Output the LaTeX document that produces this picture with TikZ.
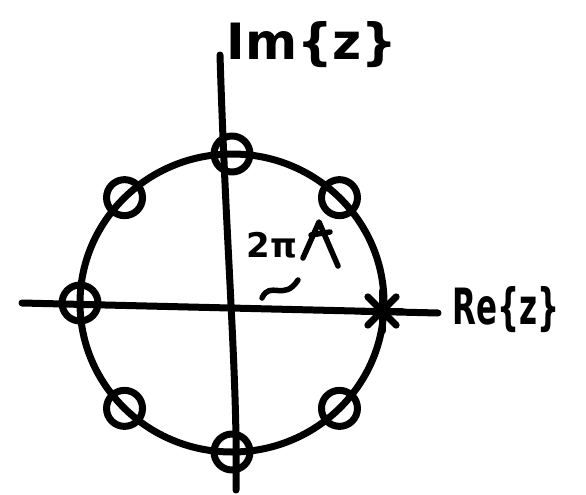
\documentclass[tikz,border=0pt]{standalone}
\usepackage{fontspec}
\setmainfont{DejaVu Sans}
\usetikzlibrary{calc}
\begin{document}
\begin{tikzpicture}[x=1pt,y=-1pt,
  ink/.style={line width=7pt,line cap=round,line join=round},
  zero/.style={ink,draw,circle,minimum size=36pt,inner sep=0pt},
  lbl/.style={font=\fontsize{50}{50}\selectfont\bfseries,inner sep=0pt}]
\useasboundingbox (0,0) rectangle (586,495);
\coordinate (O) at (232,303);
% axes
\coordinate (xl) at (22,303);
\coordinate (xr) at (438,313);
\coordinate (yt) at (220,55);
\coordinate (yb) at (236,490);
\draw[ink] (xl) -- (xr);
\draw[ink] (yt) .. controls (226,250) and (238,380) .. (yb);
% unit circle
\draw[ink] (O) ellipse [x radius=152pt, y radius=149pt];
% zeros
\foreach \a/\n in {45/z1,90/z2,135/z3,180/z4,225/z5,270/z6,315/z7}{
  \node[zero] (\n) at ($(O)+({152*cos(\a)},{-149*sin(\a)})$) {};
}
% pole (star)
\coordinate (p) at ($(O)+(150,8)$);
\foreach \a in {0,45,90,135}{
  \draw[ink] ($(p)+(\a:20)$) -- ($(p)+(\a+180:20)$);
}
% labels
\node[lbl] (im) at (312,45) {Im\{z\}};
\node[lbl,anchor=west] (re) at (452,310) {\scalebox{0.62}[1]{Re\{z\}}};
\node[inner sep=0pt,font=\fontsize{34}{34}\selectfont\bfseries] (ang) at (272,245) {2π};
\coordinate (c1) at (303,258);
\coordinate (c2) at (319,222);
\coordinate (c3) at (338,266);
\draw[ink,line width=5.5pt] (c1) -- (c2) -- (c3);
\draw[ink,line width=5.5pt] (311,235) -- (330,232);
\coordinate (t1) at (262,298);
\coordinate (t2) at (298,280);
\draw[ink,line width=5.5pt] (t1) .. controls (270,280) and (284,302) .. (t2);
\end{tikzpicture}
\end{document}
